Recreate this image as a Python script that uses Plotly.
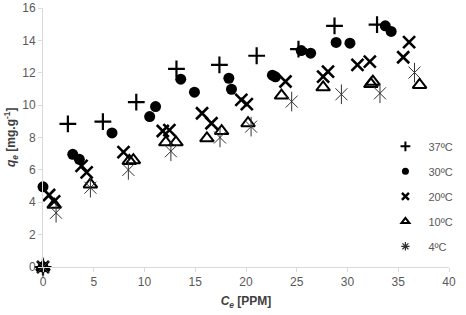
import plotly.graph_objects as go

# 37ºC
x37 = [0, 2.45, 5.90, 9.19, 13.15, 17.38, 21.05, 25.17, 28.72, 32.91]
y37 = [0, 8.84, 8.98, 10.18, 12.24, 12.49, 13.05, 13.46, 14.90, 14.97]
# 30ºC
x30 = [0, 0.0, 2.93, 3.58, 6.80, 10.51, 11.09, 13.57, 14.92, 18.31, 18.57, 22.6, 22.9, 25.44, 26.37, 28.88, 30.24, 33.72, 34.30]
y30 = [0, 4.95, 6.96, 6.65, 8.28, 9.29, 9.91, 11.60, 10.80, 11.66, 10.98, 11.85, 11.75, 13.37, 13.21, 13.87, 13.83, 14.90, 14.55]
# 20ºC
x20 = [0, 0.6, 1.1, 3.8, 4.3, 7.93, 11.80, 12.45, 15.67, 16.60, 19.54, 20.08, 23.89, 27.60, 28.08, 30.98, 32.20, 35.49, 36.07]
y20 = [0, 4.45, 4.05, 6.25, 5.85, 7.10, 8.40, 8.46, 9.50, 8.88, 10.32, 10.06, 11.46, 11.76, 12.07, 12.49, 12.69, 12.96, 13.89]
# 10ºC
x10 = [0, 1.1, 4.67, 8.50, 8.90, 12.10, 13.10, 16.15, 17.60, 20.20, 23.50, 27.60, 32.30, 32.50, 37.10]
y10 = [0, 3.85, 5.10, 6.55, 6.60, 7.70, 7.70, 7.95, 8.40, 8.88, 10.59, 11.10, 11.30, 11.45, 11.25]
# 4ºC
x4 = [0, 1.29, 4.67, 8.41, 12.60, 17.44, 20.50, 24.50, 29.40, 33.20, 36.60]
y4 = [0, 3.35, 4.90, 6.00, 7.15, 8.00, 8.67, 10.22, 10.67, 10.73, 12.01]

names = ["37ºC", "30ºC", "20ºC", "10ºC", "4ºC"]
xs = [x37, x30, x20, x10, x4]
ys = [y37, y30, y20, y10, y4]
symbols = ["cross-thin-open", "circle", "x-thin-open", "triangle-up-open", "x-thin-open"]
sizes = [12, 11, 12, 12, 12]
widths = [2.2, 0, 2.6, 2, 1]
colors = ["#000000", "#000000", "#000000", "#000000", "#333333"]
leg_sizes = [7, 7, 7, 7, 7]
leg_widths = [2, 0, 2.5, 2, 1.2]

fig = go.Figure()
for i in range(5):
    fig.add_trace(go.Scatter(
        x=xs[i], y=ys[i], mode="markers", showlegend=False, cliponaxis=False,
        marker=dict(symbol=symbols[i], size=sizes[i], color=colors[i],
                    line=dict(width=widths[i], color=colors[i]))))
# vertical stroke of the 4ºC asterisk (6-armed star)
fig.add_trace(go.Scatter(
    x=x4, y=y4, mode="markers", showlegend=False, cliponaxis=False,
    marker=dict(symbol="line-ns-open", size=14, color="#333333",
                line=dict(width=1, color="#333333"))))

for i in range(5):
    fig.add_trace(go.Scatter(
        x=[None], y=[None], mode="markers", name=names[i], legendgroup=names[i],
        marker=dict(symbol=symbols[i] if i < 4 else "asterisk-open",
                    size=leg_sizes[i], color=colors[i],
                    line=dict(width=leg_widths[i], color=colors[i]))))

font_fam = "Liberation Sans, Arial, sans-serif"
fig.update_layout(
    width=466, height=315,
    margin=dict(l=43, r=9, t=8, b=48),
    paper_bgcolor="white", plot_bgcolor="white",
    font=dict(family=font_fam, size=12, color="#595959"),
    showlegend=True,
    legend=dict(x=0.836, y=0.522, xanchor="left", yanchor="top",
                traceorder="grouped", tracegroupgap=6,
                font=dict(size=11, color="#595959"),
                bgcolor="rgba(0,0,0,0)", itemwidth=36),
    xaxis=dict(range=[0, 40], dtick=5, tick0=0, showgrid=False, zeroline=False,
               showline=True, linecolor="#d9d9d9", linewidth=1, automargin=False,
               ticks="outside", ticklen=4, tickcolor="#d9d9d9",
               title=dict(text="<b><i>C</i><sub><i>e</i></sub> [PPM]</b>",
                          font=dict(size=12, color="#404040"), standoff=8)),
    yaxis=dict(range=[0, 16], dtick=2, tick0=0, showgrid=False, zeroline=False,
               showline=True, linecolor="#d9d9d9", linewidth=1, automargin=False,
               ticks="outside", ticklen=4, tickcolor="#d9d9d9"),
    annotations=[dict(
        text="<b><i>q</i><sub><i>e</i></sub> [mg.g<sup>-1</sup>]</b>",
        xref="paper", yref="paper", x=-0.08, y=0.5, xanchor="center", yanchor="middle",
        textangle=-90, showarrow=False, font=dict(size=12, color="#404040"))],
)
fig.write_html("out.html", config={"displayModeBar": False},
               post_script="document.body.style.margin='0';")
